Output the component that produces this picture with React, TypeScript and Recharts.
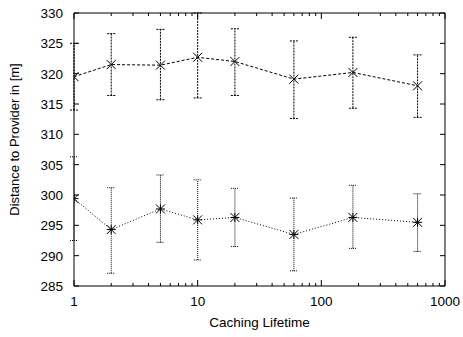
import React from 'react';
import { LineChart, Line, XAxis, YAxis, ErrorBar } from 'recharts';

// caching lifetime values (log scale)
const lifetimes = [1, 2, 5, 10, 20, 60, 180, 600];

// upper series (x markers, dashed)
const upperMean = [319.5, 321.5, 321.4, 322.7, 322.0, 319.1, 320.2, 318.0];
const upperLow = [314.0, 316.4, 315.7, 316.0, 316.4, 312.6, 314.3, 312.8];
const upperHigh = [325.0, 326.6, 327.3, 330.0, 327.4, 325.4, 326.0, 323.1];

// lower series (star markers, dotted)
const lowerMean = [299.4, 294.3, 297.7, 295.9, 296.3, 293.5, 296.3, 295.5];
const lowerLow = [292.5, 287.1, 292.2, 289.3, 291.5, 287.5, 291.2, 290.7];
const lowerHigh = [306.3, 301.2, 303.3, 302.5, 301.1, 299.5, 301.6, 300.2];

const yTicks = [285, 290, 295, 300, 305, 310, 315, 320, 325, 330];
const xMajor = [1, 10, 100, 1000];
const xMinor = [2, 3, 4, 5, 6, 7, 8, 9, 20, 30, 40, 50, 60, 70, 80, 90, 200, 300, 400, 500, 600, 700, 800, 900];

const data = lifetimes.map((x, i) => ({
  x,
  upper: upperMean[i],
  upperErr: [upperMean[i] - upperLow[i], upperHigh[i] - upperMean[i]],
  lower: lowerMean[i],
  lowerErr: [lowerMean[i] - lowerLow[i], lowerHigh[i] - lowerMean[i]],
}));

const xTicks = [...xMajor, ...xMinor].sort((a, b) => a - b);
const FONT = '"Liberation Sans", Arial, sans-serif';
const TICK_FS = 13.5;

const BottomTick = (props: any) => {
  const { x, y, payload } = props;
  const major = xMajor.includes(payload.value);
  return (
    <g>
      <line x1={x} y1={y} x2={x} y2={y - (major ? 6 : 3)} stroke="#000" />
      {major && (
        <text x={x} y={y + 20} textAnchor="middle" fontSize={TICK_FS} fontFamily={FONT} fill="#000">
          {payload.value}
        </text>
      )}
    </g>
  );
};

const TopTick = (props: any) => {
  const { x, y, payload } = props;
  const major = xMajor.includes(payload.value);
  return <line x1={x} y1={y} x2={x} y2={y + (major ? 6 : 3)} stroke="#000" />;
};

const LeftTick = (props: any) => {
  const { x, y, payload } = props;
  return (
    <g>
      <line x1={x} y1={y} x2={x + 5} y2={y} stroke="#000" />
      <text x={x - 11} y={y + 5} textAnchor="end" fontSize={TICK_FS} fontFamily={FONT} fill="#000">
        {payload.value}
      </text>
    </g>
  );
};

const RightTick = (props: any) => {
  const { x, y } = props;
  return <line x1={x} y1={y} x2={x - 5} y2={y} stroke="#000" />;
};

const CrossDot = (props: any) => {
  const { cx, cy, index } = props;
  const s = 4.5;
  return (
    <g key={`c-${index}`} stroke="#000" strokeWidth={1}>
      <line x1={cx - s} y1={cy - s} x2={cx + s} y2={cy + s} />
      <line x1={cx - s} y1={cy + s} x2={cx + s} y2={cy - s} />
    </g>
  );
};

const StarDot = (props: any) => {
  const { cx, cy, index } = props;
  const s = 4.5;
  return (
    <g key={`s-${index}`} stroke="#000" strokeWidth={1}>
      <line x1={cx - s} y1={cy - s} x2={cx + s} y2={cy + s} />
      <line x1={cx - s} y1={cy + s} x2={cx + s} y2={cy - s} />
      <line x1={cx} y1={cy - s} x2={cx} y2={cy + s} />
      <line x1={cx - s} y1={cy} x2={cx + s} y2={cy} />
    </g>
  );
};

const YLabel = (props: any) => {
  const { viewBox } = props;
  const cx = 19;
  const cy = viewBox.y + viewBox.height / 2 - 10;
  return (
    <text
      x={cx}
      y={cy}
      transform={`rotate(-90, ${cx}, ${cy})`}
      textAnchor="middle"
      fontSize={13}
      fontFamily={FONT}
      fill="#000"
    >
      Distance to Provider in [m]
    </text>
  );
};

const XLabel = (props: any) => {
  const { viewBox } = props;
  const cx = viewBox.x + viewBox.width / 2;
  return (
    <text x={cx} y={viewBox.y + 41} textAnchor="middle" fontSize={13.5} fontFamily={FONT} fill="#000">
      Caching Lifetime
    </text>
  );
};

export default function App() {
  return (
    <div style={{ position: 'fixed', left: 0, top: 0, width: 463, height: 337, background: '#fff' }}>
      <LineChart width={463} height={337} data={data} margin={{ top: 12, right: 17, bottom: 0, left: 0 }}>
        <XAxis
          dataKey="x"
          type="number"
          scale="log"
          domain={[1, 1000]}
          ticks={xTicks}
          interval={0}
          allowDataOverflow
          height={51}
          tickSize={0}
          tickMargin={0}
          tickLine={false}
          tick={<BottomTick />}
          axisLine={{ stroke: '#000' }}
          label={<XLabel />}
        />
        <XAxis
          xAxisId="top"
          orientation="top"
          dataKey="x"
          type="number"
          scale="log"
          domain={[1, 1000]}
          ticks={xTicks}
          interval={0}
          allowDataOverflow
          height={1}
          tickSize={0}
          tickMargin={0}
          tickLine={false}
          tick={<TopTick />}
          axisLine={{ stroke: '#000' }}
        />
        <YAxis
          type="number"
          domain={[285, 330]}
          ticks={yTicks}
          interval={0}
          allowDataOverflow
          width={74}
          tickSize={0}
          tickMargin={0}
          tickLine={false}
          tick={<LeftTick />}
          axisLine={{ stroke: '#000' }}
          label={<YLabel />}
        />
        <YAxis
          yAxisId="right"
          orientation="right"
          type="number"
          domain={[285, 330]}
          ticks={yTicks}
          interval={0}
          allowDataOverflow
          width={1}
          tickSize={0}
          tickMargin={0}
          tickLine={false}
          tick={<RightTick />}
          axisLine={{ stroke: '#000' }}
        />
        <Line
          dataKey="upper"
          stroke="#000"
          strokeWidth={1}
          strokeDasharray="3 2"
          dot={CrossDot}
          activeDot={false}
          isAnimationActive={false}
        >
          <ErrorBar dataKey="upperErr" width={4} stroke="#000" strokeWidth={1} strokeDasharray="2 1" />
        </Line>
        <Line
          dataKey="lower"
          stroke="#000"
          strokeWidth={1}
          strokeDasharray="1 2"
          dot={StarDot}
          activeDot={false}
          isAnimationActive={false}
        >
          <ErrorBar dataKey="lowerErr" width={4} stroke="#000" strokeWidth={1} strokeDasharray="1 1" />
        </Line>
      </LineChart>
    </div>
  );
}
